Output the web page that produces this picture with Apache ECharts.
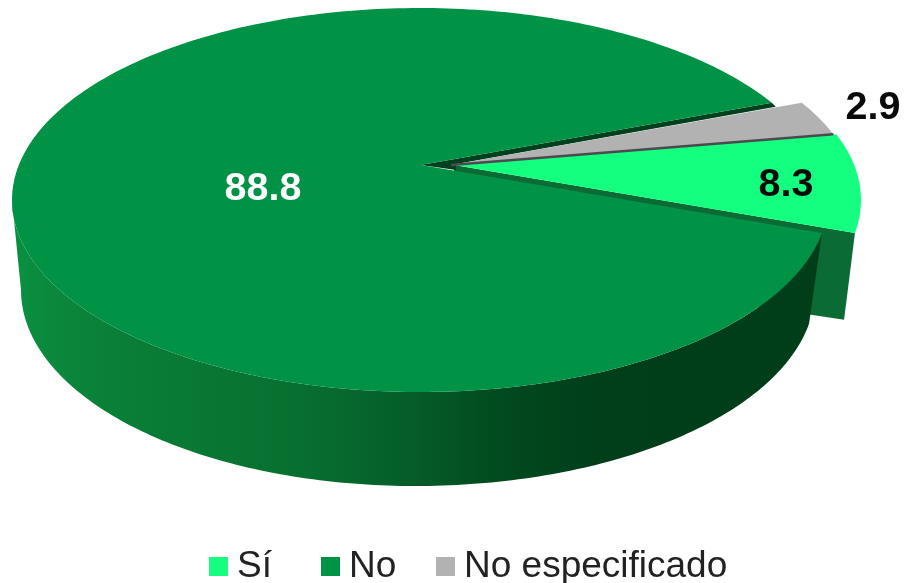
<!DOCTYPE html>
<html>
<head>
<meta charset="utf-8">
<title>Pie</title>
<script src="https://cdn.jsdelivr.net/npm/echarts@6/dist/echarts.min.js"></script>
<style>
html, body { margin: 0; padding: 0; background: #fff; }
#chart { width: 904px; height: 583px; }
</style>
</head>
<body>
<div id="chart"></div>
<script>
var categories = ['Sí', 'No', 'No especificado'];
var values = [8.3, 88.8, 2.9];

var colors = ['#14ff7f', '#009245', '#b2b2b2'];
var labelColors = ['#0a0a0a', '#ffffff', '#0a0a0a'];
var labelPos = [[786, 185], [263, 189], [873, 108]];
var legendLeft = [209, 321, 436];

// top face and foot of the tilted disc
var top3d = { cx: 420, cy: 200, rx: 408, ry: 192 };
var foot = { cx: 415, cy: 290, rxL: 394, rxR: 400, ry: 196 };
var apex = [421, 165];
var startDeg = -20;
var explode = [[33, 0], [0, 0], [30, 0]];

var total = values.reduce(function (a, b) { return a + b; }, 0);
var angles = [];
var acc = startDeg;
values.forEach(function (v) {
    var next = acc + v / total * 360;
    angles.push([acc, next]);
    acc = next;
});

function onTop(deg, off) {
    var t = deg * Math.PI / 180;
    return [top3d.cx + top3d.rx * Math.cos(t) + off[0], top3d.cy + top3d.ry * Math.sin(t) + off[1]];
}
function onFoot(deg, off) {
    var t = deg * Math.PI / 180;
    var c = Math.cos(t);
    return [foot.cx + (c > 0 ? foot.rxR : foot.rxL) * c + off[0], foot.cy + foot.ry * Math.sin(t) + off[1]];
}
function arc(fn, a, b, off) {
    var pts = [];
    var step = a < b ? 1 : -1;
    for (var d = a; step > 0 ? d < b : d > b; d += step) pts.push(fn(d, off));
    pts.push(fn(b, off));
    return pts;
}
function apexOf(i) {
    return [apex[0] + explode[i][0], apex[1] + explode[i][1]];
}
function poly(points, fill, z2) {
    return { type: 'polygon', z2: z2, shape: { points: points }, style: { fill: fill } };
}
function label(i, value) {
    return {
        type: 'text', z2: 50,
        style: {
            text: value.toFixed(1), x: labelPos[i][0], y: labelPos[i][1],
            fill: labelColors[i], fontSize: 39.5, fontWeight: 'bold',
            fontFamily: 'Liberation Sans', align: 'center', verticalAlign: 'middle'
        }
    };
}

var wallGradient = {
    type: 'linear', x: 0, y: 0, x2: 1, y2: 0,
    colorStops: [
        { offset: 0, color: '#0a9040' },
        { offset: 0.11, color: '#0a8038' },
        { offset: 0.36, color: '#076f30' },
        { offset: 0.5, color: '#055c28' },
        { offset: 0.6, color: '#024a1f' },
        { offset: 0.72, color: '#003f1a' },
        { offset: 1, color: '#003d19' }
    ]
};

function renderSi(params, api) {
    var a = angles[0];
    var off = explode[0];
    var ap = apexOf(0);
    var end = onTop(a[1], off);
    var tip = onFoot(a[1], [35, -4]);
    return {
        type: 'group',
        children: [
            poly([ap, end, tip, [ap[0], ap[1] + 96]], '#0a6b35', 1),
            poly([ap].concat(arc(onTop, a[0], a[1], off)), colors[0], 30),
            label(0, api.value(0))
        ]
    };
}
function renderNo(params, api) {
    var a = angles[1];
    var off = explode[1];
    var wall = arc(onTop, a[0], 180, off).concat(arc(onFoot, 180, a[0], off));
    var end = onTop(a[1], off);
    var grayStart = apexOf(2);
    return {
        type: 'group',
        children: [
            poly(wall, wallGradient, 5),
            // dark cut faces showing where the two small slices were pulled out
            poly([apex, end, [end[0] + 4, end[1] + 4], grayStart], '#00401c', 6),
            poly([apex].concat(arc(onTop, a[0], a[1], off)), colors[1], 10),
            poly([apex, [grayStart[0] + 5, grayStart[1] - 4], [grayStart[0] + 5, grayStart[1] + 5]], '#00401c', 11),
            label(1, api.value(0))
        ]
    };
}
function renderOther(params, api) {
    var a = angles[2];
    var off = explode[2];
    var ap = apexOf(2);
    return {
        type: 'group',
        children: [
            poly([ap].concat(arc(onTop, a[0], a[1], off)), colors[2], 20),
            {
                type: 'line', z2: 35,
                shape: { x1: ap[0], y1: ap[1], x2: onTop(a[1], off)[0], y2: onTop(a[1], off)[1] },
                style: { stroke: '#4c4a50', lineWidth: 2.5 }
            },
            label(2, api.value(0))
        ]
    };
}

var renderers = [renderSi, renderNo, renderOther];

var option = {
    animation: false,
    backgroundColor: '#fff',
    legend: categories.map(function (name, i) {
        return {
            data: [name], left: legendLeft[i], top: 548, padding: 0,
            icon: 'rect', itemWidth: 19, itemHeight: 19, selectedMode: false,
            textStyle: { fontSize: 37, color: '#222', fontFamily: 'Liberation Sans', padding: [0, 0, 0, 4] }
        };
    }),
    series: categories.map(function (name, i) {
        return {
            type: 'custom', name: name, coordinateSystem: 'none',
            itemStyle: { color: colors[i] },
            data: [[values[i]]],
            renderItem: renderers[i]
        };
    })
};

var chart = echarts.init(document.getElementById('chart'));
chart.setOption(option);
</script>
</body>
</html>
